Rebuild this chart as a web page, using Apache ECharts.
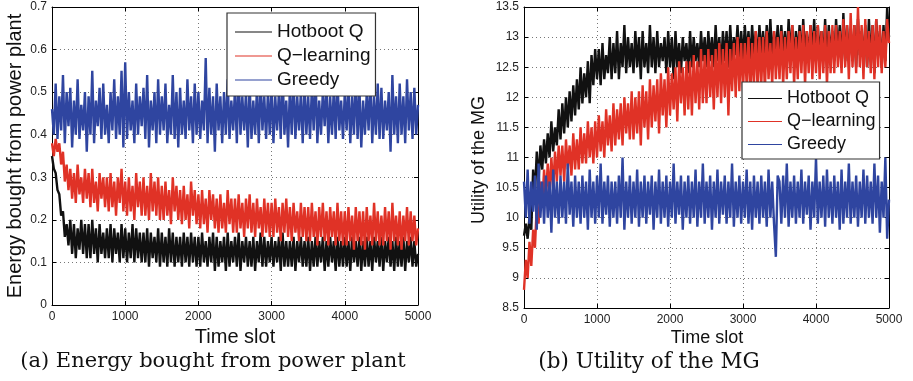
<!DOCTYPE html>
<html>
<head>
<meta charset="utf-8">
<script src="https://cdn.jsdelivr.net/npm/echarts@6/dist/echarts.min.js"></script>
<style>
html,body{margin:0;padding:0;background:#fff;}
#chart{width:913px;height:381px;}
</style>
</head>
<body>
<div id="chart"></div>
<script>
// Time slots are sampled every 25 slots, 0..5000 (201 samples per series)
const STEP = 25;
const xTicks = [0, 1000, 2000, 3000, 4000, 5000];
const seriesNames = ['Hotboot Q', 'Q\u2212learning', 'Greedy'];

// (a) Energy bought from power plant
const hotbootEnergy = [
.35,.32,.31,.27,.26,.21,.22,.16,.19,.14,
.20,.12,.19,.11,.18,.13,.20,.12,.19,.11,
.19,.11,.20,.12,.18,.10,.19,.12,.17,.11,
.18,.11,.19,.10,.18,.12,.17,.10,.19,.11,
.18,.10,.17,.11,.19,.10,.18,.11,.17,.10,
.17,.10,.18,.09,.17,.11,.16,.10,.18,.09,
.17,.10,.16,.09,.18,.10,.17,.09,.16,.10,
.16,.09,.17,.10,.16,.09,.17,.10,.16,.09,
.16,.09,.17,.10,.15,.09,.16,.10,.17,.08,
.16,.09,.15,.10,.16,.08,.17,.09,.15,.10,
.16,.09,.17,.08,.15,.10,.16,.09,.15,.09,
.16,.08,.15,.10,.17,.09,.16,.09,.15,.10,
.16,.09,.15,.10,.16,.08,.17,.09,.15,.09,
.15,.09,.16,.08,.15,.10,.16,.09,.15,.09,
.16,.08,.15,.09,.16,.09,.15,.10,.16,.08,
.15,.09,.16,.10,.15,.08,.16,.09,.15,.09,
.16,.09,.15,.08,.16,.10,.15,.09,.16,.08,
.15,.09,.16,.09,.15,.08,.16,.10,.15,.09,
.16,.08,.15,.10,.16,.09,.15,.08,.16,.09,
.15,.09,.16,.08,.15,.10,.16,.09,.15,.09,
.12];
const qlearnEnergy = [
.38,.35,.39,.36,.38,.33,.36,.29,.33,.27,
.32,.25,.31,.24,.33,.26,.30,.24,.32,.25,
.31,.23,.32,.24,.29,.22,.31,.25,.30,.23,
.30,.22,.31,.23,.29,.21,.30,.24,.32,.22,
.29,.21,.30,.22,.28,.20,.31,.23,.29,.21,
.30,.21,.28,.20,.31,.22,.29,.21,.30,.20,
.28,.20,.29,.21,.27,.19,.30,.22,.28,.20,
.27,.19,.28,.20,.26,.18,.29,.21,.27,.19,
.26,.18,.27,.19,.25,.17,.27,.20,.26,.18,
.25,.17,.26,.18,.24,.17,.27,.19,.25,.17,
.25,.17,.26,.18,.24,.16,.25,.18,.26,.17,
.24,.16,.25,.18,.23,.16,.25,.17,.24,.16,
.24,.16,.25,.17,.23,.15,.24,.17,.25,.16,
.23,.15,.24,.17,.22,.15,.24,.16,.23,.15,
.23,.15,.24,.16,.22,.14,.23,.16,.24,.15,
.22,.14,.23,.16,.22,.14,.24,.15,.22,.14,
.22,.14,.23,.15,.21,.13,.23,.15,.22,.14,
.22,.13,.23,.15,.21,.14,.24,.15,.22,.14,
.21,.14,.23,.15,.22,.13,.24,.15,.21,.14,
.22,.13,.21,.15,.23,.14,.22,.15,.21,.14,
.18];
const greedyEnergy = [
.46,.40,.52,.39,.49,.41,.54,.38,.50,.42,
.51,.37,.48,.40,.53,.39,.47,.41,.50,.36,
.49,.40,.55,.38,.48,.42,.51,.39,.52,.40,
.47,.38,.50,.41,.53,.39,.49,.40,.55,.37,
.57,.39,.50,.41,.48,.38,.52,.40,.49,.42,
.51,.39,.54,.37,.48,.41,.50,.38,.53,.40,
.49,.41,.52,.38,.47,.40,.54,.39,.50,.37,
.51,.40,.48,.39,.53,.41,.49,.38,.52,.40,
.50,.39,.48,.41,.58,.38,.51,.40,.49,.36,
.52,.41,.49,.38,.50,.40,.53,.39,.48,.41,
.51,.38,.54,.40,.49,.41,.50,.37,.52,.39,
.48,.40,.51,.38,.53,.41,.49,.39,.50,.40,
.52,.38,.49,.41,.50,.39,.55,.40,.48,.37,
.51,.40,.53,.39,.49,.41,.50,.38,.52,.40,
.49,.39,.51,.41,.54,.38,.48,.40,.50,.42,
.52,.38,.49,.40,.51,.39,.53,.41,.48,.39,
.50,.41,.52,.38,.49,.40,.54,.39,.51,.37,
.48,.40,.50,.41,.53,.38,.49,.40,.52,.39,
.51,.39,.48,.41,.50,.36,.54,.40,.49,.38,
.52,.40,.49,.38,.53,.41,.50,.39,.51,.40,
.47];

// (b) Utility of the MG
const hotbootUtility = [
9.7,9.9,9.65,10.0,9.8,10.8,10.4,11.1,10.6,11.2,
10.8,11.3,10.9,11.4,11.0,11.6,11.1,11.5,11.2,11.8,
11.3,11.9,11.4,12.0,11.5,12.1,11.6,12.2,11.7,12.3,
11.8,12.5,11.9,12.4,12.0,12.6,11.9,12.7,12.2,12.8,
12.3,12.8,12.2,12.9,12.3,12.7,12.4,13.0,12.3,12.9,
12.4,13.1,12.3,12.9,12.5,13.2,12.4,13.0,12.5,12.9,
12.4,13.1,12.5,13.0,12.3,13.1,12.5,12.9,12.4,13.2,
12.5,13.0,12.4,13.1,12.5,12.9,12.6,13.0,12.4,13.1,
12.5,13.0,12.3,13.1,12.5,12.9,12.4,13.0,12.6,12.9,
12.4,13.1,12.5,13.0,12.6,12.9,12.5,13.1,12.6,13.0,
12.5,13.1,12.6,13.0,12.5,13.2,12.6,13.0,12.5,13.1,
12.6,13.1,12.5,13.2,12.6,13.0,12.7,13.2,12.6,13.1,
12.6,13.2,12.7,13.1,12.6,13.2,12.7,13.1,12.6,13.2,
12.7,13.1,12.6,13.2,12.7,13.3,12.6,13.1,12.7,13.2,
12.6,13.2,12.7,13.1,12.6,13.3,12.7,13.2,12.6,13.1,
12.7,13.2,12.6,13.3,12.7,13.1,12.6,13.2,12.7,13.3,
12.6,13.2,12.7,13.1,12.6,13.3,12.5,13.2,12.7,13.1,
12.6,13.3,12.7,13.2,12.5,13.4,12.6,13.2,12.7,13.1,
12.6,13.2,12.5,13.3,12.7,13.1,12.6,13.2,12.5,13.3,
12.6,13.2,12.4,13.3,12.7,13.1,12.5,13.2,12.6,13.5,
13.0];
const qlearnUtility = [
8.8,9.3,9.0,9.6,9.2,9.8,9.5,10.2,9.9,10.6,
10.2,10.8,10.3,10.9,10.4,11.0,10.5,11.1,10.6,11.2,
10.7,11.2,10.6,11.3,10.8,11.2,10.7,11.4,10.8,11.3,
10.8,11.5,10.9,11.4,10.9,11.6,11.0,11.5,10.9,11.6,
11.0,11.7,11.1,11.6,11.0,11.8,11.2,11.7,11.1,11.9,
11.2,11.8,11.3,11.9,11.2,12.0,11.4,11.9,11.3,12.1,
11.3,12.0,11.4,12.1,11.2,12.2,11.5,12.1,11.3,12.3,
11.5,12.2,11.6,12.3,11.4,12.4,11.7,12.3,11.5,12.5,
11.7,12.4,11.8,12.5,11.6,12.6,11.9,12.5,11.7,12.6,
11.8,12.6,11.7,12.7,11.9,12.6,11.8,12.8,11.9,12.7,
11.9,12.8,12.0,12.7,11.8,12.8,12.0,12.9,11.9,12.8,
12.0,12.9,11.7,12.8,12.1,12.9,12.0,13.0,12.1,12.9,
12.1,12.9,12.2,13.0,12.0,12.9,12.2,13.1,12.1,13.0,
12.2,13.0,12.1,13.1,12.3,12.9,12.2,13.1,12.3,13.0,
12.3,13.1,12.2,13.0,12.3,13.1,12.4,13.2,12.2,13.0,
12.3,13.1,12.4,13.2,12.2,13.1,12.4,13.2,12.3,13.1,
12.4,13.2,12.3,13.1,12.4,13.2,12.2,13.1,12.4,13.2,
12.4,13.2,12.5,13.1,12.4,13.3,12.5,13.2,12.3,13.4,
12.5,13.2,12.4,13.5,12.5,13.2,12.3,13.3,12.5,13.1,
12.4,13.2,12.3,13.3,12.5,13.2,12.4,13.1,12.5,13.3,
12.9];
const greedyUtility = [
10.6,10.0,10.8,9.9,10.6,10.1,10.7,9.8,10.9,10.0,
10.6,9.9,10.7,10.0,10.6,9.75,10.8,10.0,10.6,9.9,
10.7,10.0,10.6,9.9,10.9,10.05,10.6,9.85,10.7,10.0,
10.6,9.9,10.7,10.0,10.6,9.8,10.8,10.0,10.6,9.9,
10.7,10.0,10.9,9.9,10.6,10.05,10.7,9.85,10.6,10.0,
10.6,9.9,10.7,10.0,11.0,9.8,10.6,10.0,10.7,9.9,
10.6,10.0,10.8,9.85,10.6,10.0,10.7,9.9,10.6,10.05,
10.7,9.8,10.6,10.0,10.8,9.9,10.6,10.0,10.7,9.85,
10.6,10.0,10.9,9.9,10.6,10.05,10.7,9.8,10.6,10.0,
10.7,9.9,10.6,10.0,10.8,9.85,10.6,10.0,10.9,9.9,
10.6,10.0,10.7,9.8,10.6,10.0,10.8,9.9,10.6,10.05,
10.7,9.9,10.6,10.0,10.9,9.85,10.6,10.0,10.7,9.9,
10.6,10.0,10.8,9.9,10.6,9.8,10.7,10.0,10.6,9.9,
10.7,10.0,10.6,9.85,10.8,10.0,10.6,9.9,9.35,10.7,
10.6,9.9,10.7,10.0,10.9,9.85,10.6,10.0,10.7,9.9,
10.6,10.0,10.8,9.9,10.6,10.05,10.7,9.8,10.6,10.0,
11.0,9.9,10.6,10.0,10.7,9.85,10.8,10.0,10.6,9.9,
10.7,10.0,10.6,9.8,10.8,9.9,10.6,10.0,10.9,9.9,
10.6,10.0,10.7,9.85,10.6,10.0,10.8,9.9,10.7,10.0,
10.6,9.9,10.9,10.0,10.7,9.75,10.6,10.0,11.0,9.65,
10.3];

const colors = ['#111111', '#e03226', '#2f45a0'];

function pairs(arr) { return arr.map((v, i) => [i * STEP, v]); }

const SANS = '"Liberation Sans", Arial, Helvetica, sans-serif';
const SERIF = '"DejaVu Serif", "Liberation Serif", serif';

const gridBox = [
  { left: 52, top: 7, width: 366, height: 298 },
  { left: 524, top: 7, width: 365, height: 301 }
];
const yRanges = [
  { min: 0, max: 0.7, interval: 0.1 },
  { min: 8.5, max: 13.5, interval: 0.5 }
];

const xAxes = [], yAxes = [];
[0, 1].forEach(g => {
  xAxes.push({
    type: 'value', gridIndex: g, min: xTicks[0], max: xTicks[xTicks.length - 1], interval: 1000,
    axisLine: { onZero: false, lineStyle: { color: '#000', width: 1 } },
    axisTick: { inside: true, length: 4, lineStyle: { color: '#000' } },
    axisLabel: { color: '#222', fontSize: 12, fontFamily: SANS, margin: 6, formatter: v => String(v) },
    splitLine: { show: true, lineStyle: { color: '#777', type: [1, 3], width: 1 } }
  });
  xAxes.push({
    type: 'value', gridIndex: g, position: 'top', min: xTicks[0], max: xTicks[xTicks.length - 1], interval: 1000,
    axisLine: { onZero: false, lineStyle: { color: '#000', width: 1 } },
    axisTick: { inside: true, length: 4, lineStyle: { color: '#000' } },
    axisLabel: { show: false }, splitLine: { show: false }
  });
  yAxes.push({
    type: 'value', gridIndex: g, min: yRanges[g].min, max: yRanges[g].max, interval: yRanges[g].interval,
    axisLine: { show: true, onZero: false, lineStyle: { color: '#000', width: 1 } },
    axisTick: { show: true, inside: true, length: 4, lineStyle: { color: '#000' } },
    axisLabel: { color: '#222', fontSize: 12, fontFamily: SANS, margin: 5,
      formatter: v => String(Math.round(v * 10) / 10) },
    splitLine: { show: true, lineStyle: { color: '#777', type: [1, 3], width: 1 } }
  });
  yAxes.push({
    type: 'value', gridIndex: g, position: 'right', min: yRanges[g].min, max: yRanges[g].max, interval: yRanges[g].interval,
    axisLine: { show: true, onZero: false, lineStyle: { color: '#000', width: 1 } },
    axisTick: { show: true, inside: true, length: 4, lineStyle: { color: '#000' } },
    axisLabel: { show: false }, splitLine: { show: false }
  });
});

function lineSeries(name, data, color, g) {
  return {
    type: 'line', name: name, data: pairs(data), xAxisIndex: g * 2, yAxisIndex: g * 2,
    showSymbol: false, symbol: 'none', animation: false,
    lineStyle: { color: color, width: 2.4, join: 'miter', miterLimit: 2 }, itemStyle: { color: color }
  };
}

const series = [
  lineSeries(seriesNames[0], hotbootEnergy, colors[0], 0),
  lineSeries(seriesNames[1], qlearnEnergy, colors[1], 0),
  lineSeries(seriesNames[2], greedyEnergy, colors[2], 0),
  lineSeries(seriesNames[0], hotbootUtility, colors[0], 1),
  lineSeries(seriesNames[1], qlearnUtility, colors[1], 1),
  lineSeries(seriesNames[2], greedyUtility, colors[2], 1)
];

const legendCommon = {
  orient: 'vertical', backgroundColor: '#fff', borderColor: '#333', borderWidth: 1.2,
  borderRadius: 0, itemHeight: 1, selectedMode: false, icon: 'rect',
  itemStyle: { borderWidth: 0 }, lineStyle: { width: 0 },
  data: seriesNames.slice()
};

const option = {
  animation: false,
  grid: gridBox.map(b => Object.assign({ containLabel: false }, b)),
  xAxis: xAxes,
  yAxis: yAxes,
  legend: [
    Object.assign({}, legendCommon, {
      left: 227, top: 13, itemWidth: 37, itemGap: 4, padding: [9, 5, 6, 8],
      textStyle: { fontSize: 19, fontFamily: SANS, color: '#111', lineHeight: 20 }
    }),
    Object.assign({}, legendCommon, {
      left: 742, top: 82, itemWidth: 34, itemGap: 4, padding: [7, 4, 5, 6],
      textStyle: { fontSize: 18, fontFamily: SANS, color: '#111', lineHeight: 19 }
    })
  ],
  series: series,
  graphic: [
    { type: 'text', x: 15, y: 156, rotation: Math.PI / 2,
      style: { text: 'Energy bought from power plant', font: '20px ' + SANS, fill: '#111', align: 'center', verticalAlign: 'middle' } },
    { type: 'text', x: 235, y: 337,
      style: { text: 'Time slot', font: '20px ' + SANS, fill: '#111', align: 'center', verticalAlign: 'middle' } },
    { type: 'text', x: 213, y: 362,
      style: { text: '(a) Energy bought from power plant', font: '21px ' + SERIF, fill: '#111', align: 'center', verticalAlign: 'middle' } },
    { type: 'text', x: 479, y: 160, rotation: Math.PI / 2,
      style: { text: 'Utility of the MG', font: '18px ' + SANS, fill: '#111', align: 'center', verticalAlign: 'middle' } },
    { type: 'text', x: 707, y: 338,
      style: { text: 'Time slot', font: '18px ' + SANS, fill: '#111', align: 'center', verticalAlign: 'middle' } },
    { type: 'text', x: 649, y: 362,
      style: { text: '(b) Utility of the MG', font: '21.5px ' + SERIF, fill: '#111', align: 'center', verticalAlign: 'middle' } }
  ]
};

const chart = echarts.init(document.getElementById('chart'), null, { renderer: 'canvas' });
chart.setOption(option);
</script>
</body>
</html>
